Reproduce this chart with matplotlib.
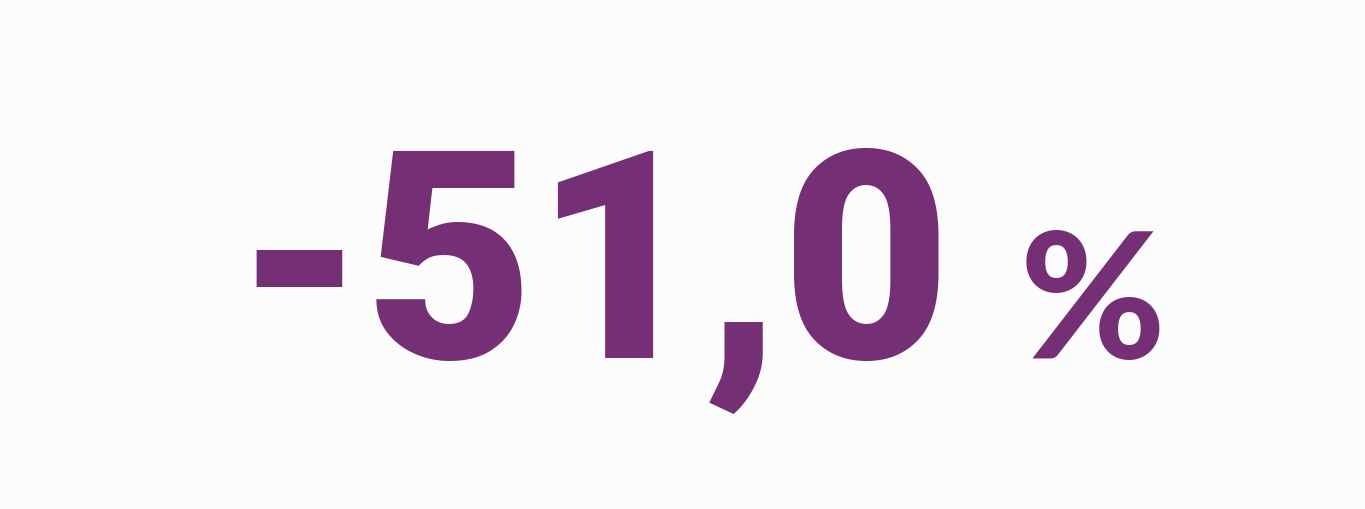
import matplotlib
matplotlib.use("Agg")
import matplotlib.pyplot as plt

# KPI value
kpi_value = -51.0
kpi_unit = "%"

purple = "#752f75"
bg = "#fcfcfc"

label = f"{kpi_value:.1f}".replace(".", ",")

fig = plt.figure(figsize=(13.65, 5.09), dpi=100, facecolor=bg)

# number in Roboto Black, percent sign in Lato Black (closer shapes)
fig.text(0.172, 0.297, label, ha="left", va="baseline",
         fontsize=210, fontweight=900, color=purple,
         family=["Roboto", "DejaVu Sans"])
fig.text(0.747, 0.297, kpi_unit, ha="left", va="baseline",
         fontsize=127, fontweight=900, color=purple,
         family=["Lato", "DejaVu Sans"])

fig.savefig("out.png", dpi=100, facecolor=bg)
